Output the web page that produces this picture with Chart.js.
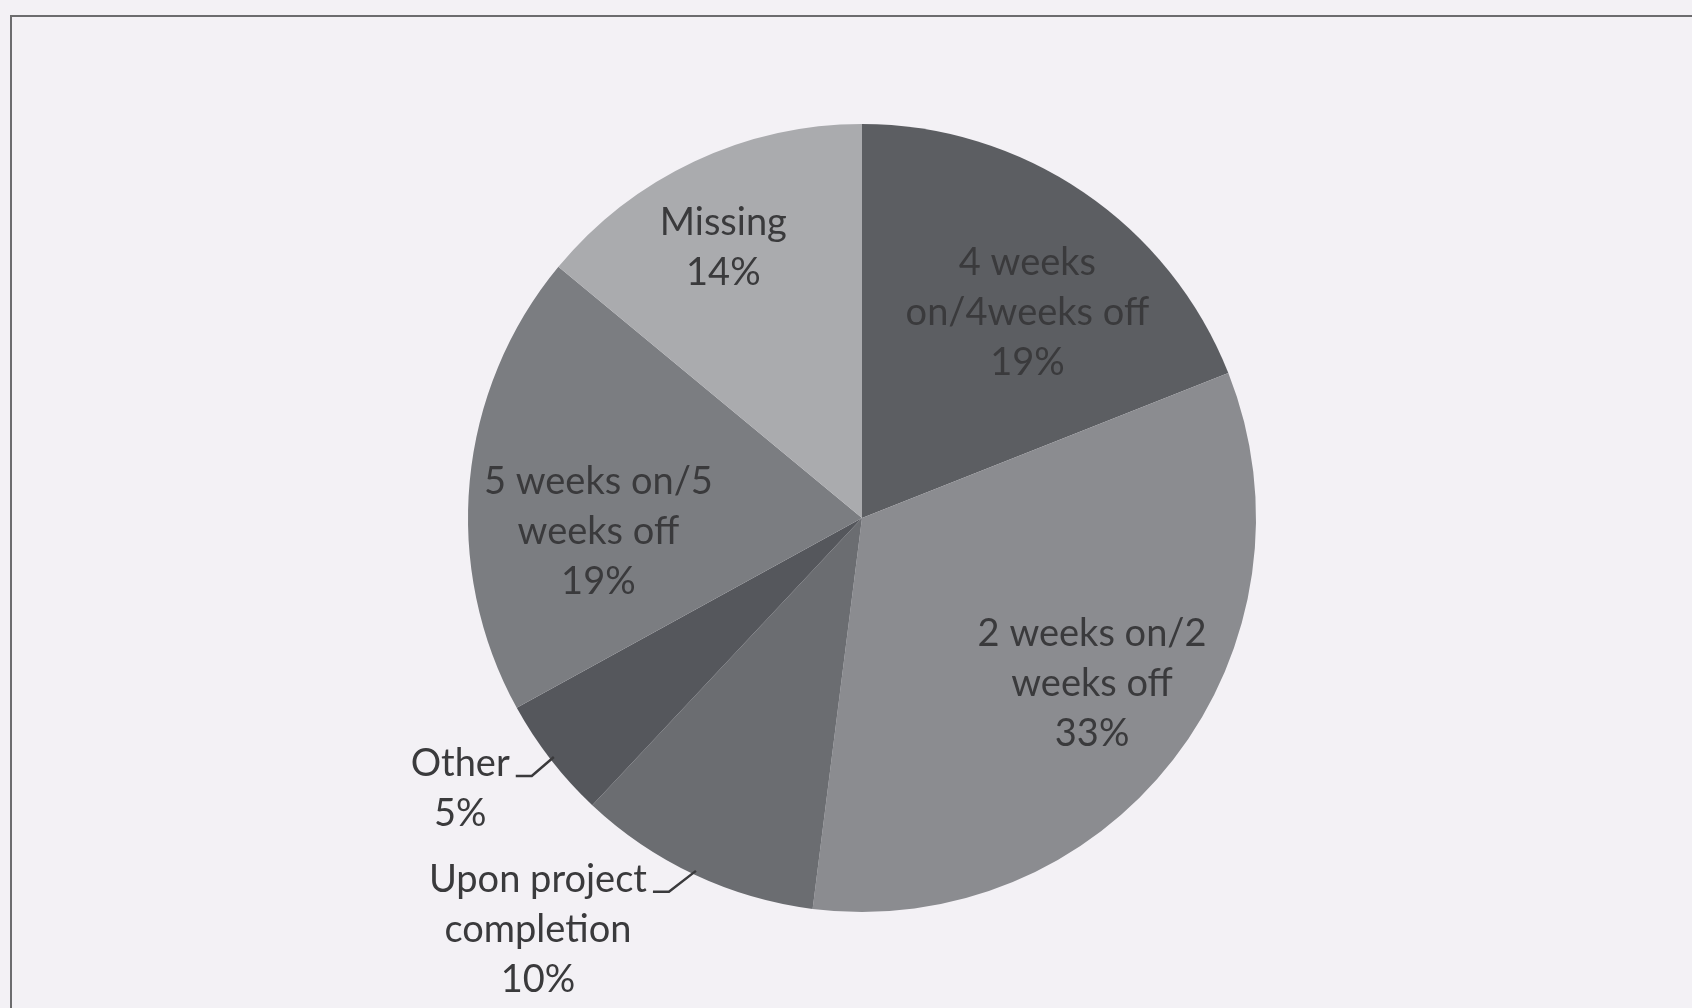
<!DOCTYPE html>
<html>
<head>
<meta charset="utf-8">
<script src="https://cdn.jsdelivr.net/npm/chart.js@4/dist/chart.umd.min.js"></script>
<style>
  html, body { margin: 0; padding: 0; background: #f3f1f5; overflow: hidden; }
  #wrap { position: absolute; left: 0; top: 0; width: 1692px; height: 1008px; }
  #frame { position: absolute; left: 10px; top: 15px; width: 1720px; height: 1100px; border: 2px solid #6c6c6e; box-sizing: border-box; }
  canvas { position: absolute; left: 0; top: 0; }
</style>
</head>
<body>
<div id="wrap">
  <div id="frame"></div>
  <canvas id="c" width="1692" height="1008"></canvas>
</div>
<script>
// ---- data ----
const categories = ["4 weeks on/4weeks off", "2 weeks on/2 weeks off", "Upon project completion", "Other", "5 weeks on/5 weeks off", "Missing"];
const shares = [19, 33, 10, 5, 19, 14];
const labelLines = [
  ["4 weeks", "on/4weeks off", "19%"],
  ["2 weeks on/2", "weeks off", "33%"],
  ["Upon project", "completion", "10%"],
  ["Other", "5%"],
  ["5 weeks on/5", "weeks off", "19%"],
  ["Missing", "14%"]
];

// ---- styles ----
const sliceColors = ["#5c5e62", "#8b8c90", "#6b6d71", "#55575c", "#7b7d81", "#aaabae"];
// label placement: angle offset from slice mid (deg), distance as fraction of radius, leader line
const labelPlace = [
  { dAng: 4.6, rf: 0.67, leader: false },
  { dAng: -2, rf: 0.72, leader: false },
  { dAng: 13, rf: 1.33, leader: true },
  { dAng: 3.8, rf: 1.23, leader: true },
  { dAng: -8.4, rf: 0.67, leader: false },
  { dAng: -2, rf: 0.77, leader: false }
];
const FONT = "38px Lato";
const LINE_H = 50;

const labelPlugin = {
  id: 'sliceLabels',
  afterDatasetsDraw(chart) {
    const ctx = chart.ctx;
    const meta = chart.getDatasetMeta(0);
    ctx.save();
    ctx.font = FONT;
    ctx.fillStyle = "#3a3a3c";
    ctx.textAlign = "center";
    ctx.textBaseline = "middle";
    meta.data.forEach((arc, i) => {
      const p = arc.getProps(['x', 'y', 'startAngle', 'endAngle', 'outerRadius'], true);
      const mid = (p.startAngle + p.endAngle) / 2;
      const pl = labelPlace[i];
      const a = mid + pl.dAng * Math.PI / 180;
      const d = p.outerRadius * pl.rf;
      const cx = p.x + Math.cos(a) * d;
      const cy = p.y + Math.sin(a) * d;
      const lines = labelLines[i];
      const top = cy - (lines.length - 1) * LINE_H / 2;
      lines.forEach((ln, k) => ctx.fillText(ln, cx, top + k * LINE_H));
      if (pl.leader) {
        const w = ctx.measureText(lines[0]).width;
        const x0 = cx + w / 2 + 6;
        const y0 = top + 12;
        const ex = p.x + Math.cos(mid) * (p.outerRadius - 4);
        const ey = p.y + Math.sin(mid) * (p.outerRadius - 4);
        ctx.beginPath();
        ctx.strokeStyle = "#3a3a3c";
        ctx.lineWidth = 2.5;
        ctx.moveTo(x0, y0);
        ctx.lineTo(x0 + 16, y0);
        ctx.lineTo(ex, ey);
        ctx.stroke();
      }
    });
    ctx.restore();
  }
};

new Chart(document.getElementById('c'), {
  type: 'pie',
  data: {
    labels: categories,
    datasets: [{
      data: shares,
      backgroundColor: sliceColors,
      borderWidth: 0
    }]
  },
  options: {
    responsive: false,
    animation: false,
    layout: { padding: { top: 124, bottom: 96, left: 400, right: 368 } },
    plugins: {
      legend: { display: false },
      tooltip: { enabled: false }
    }
  },
  plugins: [labelPlugin]
});
</script>
</body>
</html>
